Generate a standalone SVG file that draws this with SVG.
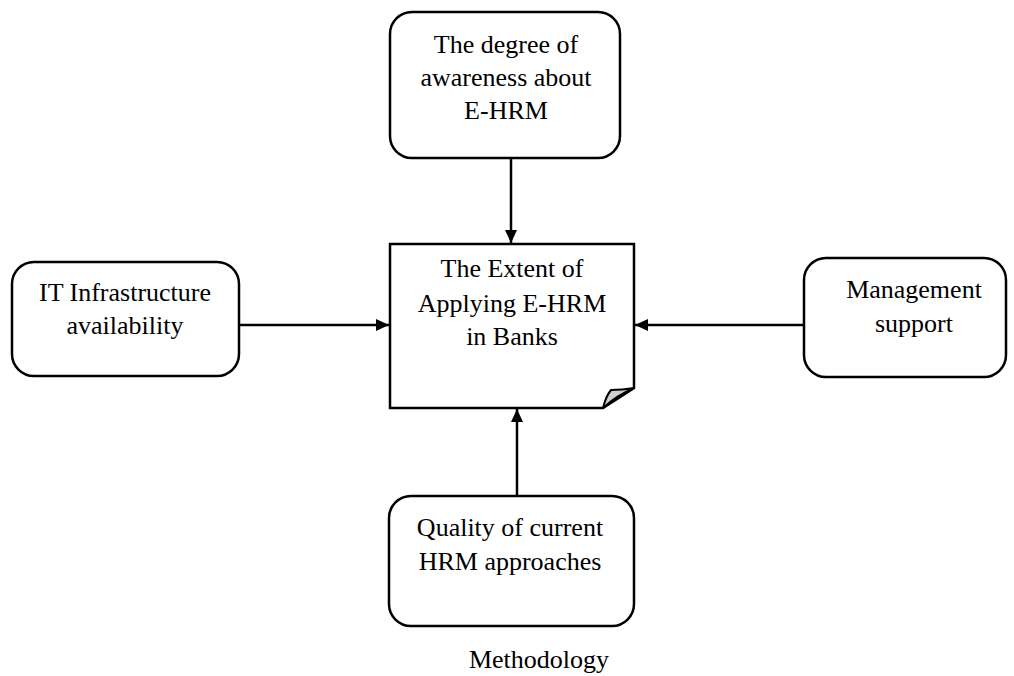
<svg xmlns="http://www.w3.org/2000/svg" width="1014" height="676" viewBox="0 0 1014 676">
<style>
.box{fill:#fff;stroke:#000;stroke-width:2.5}
.t{font-family:"Liberation Serif","Times New Roman",serif;font-size:26px;fill:#000;text-anchor:middle}
.c{stroke:#000;stroke-width:2.5;fill:none;marker-end:url(#ah)}
</style>
<defs>
<marker id="ah" viewBox="0 0 13 12" refX="13" refY="6" markerWidth="13" markerHeight="12" markerUnits="userSpaceOnUse" orient="auto">
<path d="M0,0 L13,6 L0,12 Z" fill="#000"/>
</marker>
</defs>
<rect width="1014" height="676" fill="#fff"/>
<g id="connectors">
<line class="c" x1="511" y1="158" x2="511" y2="243"/>
<line class="c" x1="239" y1="325" x2="389" y2="325"/>
<line class="c" x1="804" y1="325" x2="635" y2="325"/>
<line class="c" x1="517" y1="496" x2="517" y2="409"/>
</g>
<g id="awareness">
<rect class="box" x="390" y="12" width="230" height="146" rx="22"/>
<text class="t" x="506" y="53">The degree of</text>
<text class="t" x="506" y="86">awareness about</text>
<text class="t" x="506" y="119">E-HRM</text>
</g>
<g id="extent">
<path class="box" d="M390,244 H634 V388 L603,408 H390 Z"/>
<path d="M603,408 Q606,396 611,390 Q622,390 634,388 Q616,396 603,408 Z" fill="#d0d0d0" stroke="#000" stroke-width="2" stroke-linejoin="round"/>
<text class="t" x="512" y="277">The Extent of</text>
<text class="t" x="512" y="312">Applying E-HRM</text>
<text class="t" x="512" y="345">in Banks</text>
</g>
<g id="it">
<rect class="box" x="12" y="262" width="227" height="114" rx="22"/>
<text class="t" x="125" y="301">IT Infrastructure</text>
<text class="t" x="125" y="334">availability</text>
</g>
<g id="management">
<rect class="box" x="804" y="258" width="202" height="119" rx="22"/>
<text class="t" x="914" y="298">Management</text>
<text class="t" x="914" y="332">support</text>
</g>
<g id="quality">
<rect class="box" x="389" y="496" width="245" height="130" rx="22"/>
<text class="t" x="510" y="536">Quality of current</text>
<text class="t" x="510" y="570">HRM approaches</text>
</g>
<text class="t" x="539" y="668">Methodology</text>
</svg>
